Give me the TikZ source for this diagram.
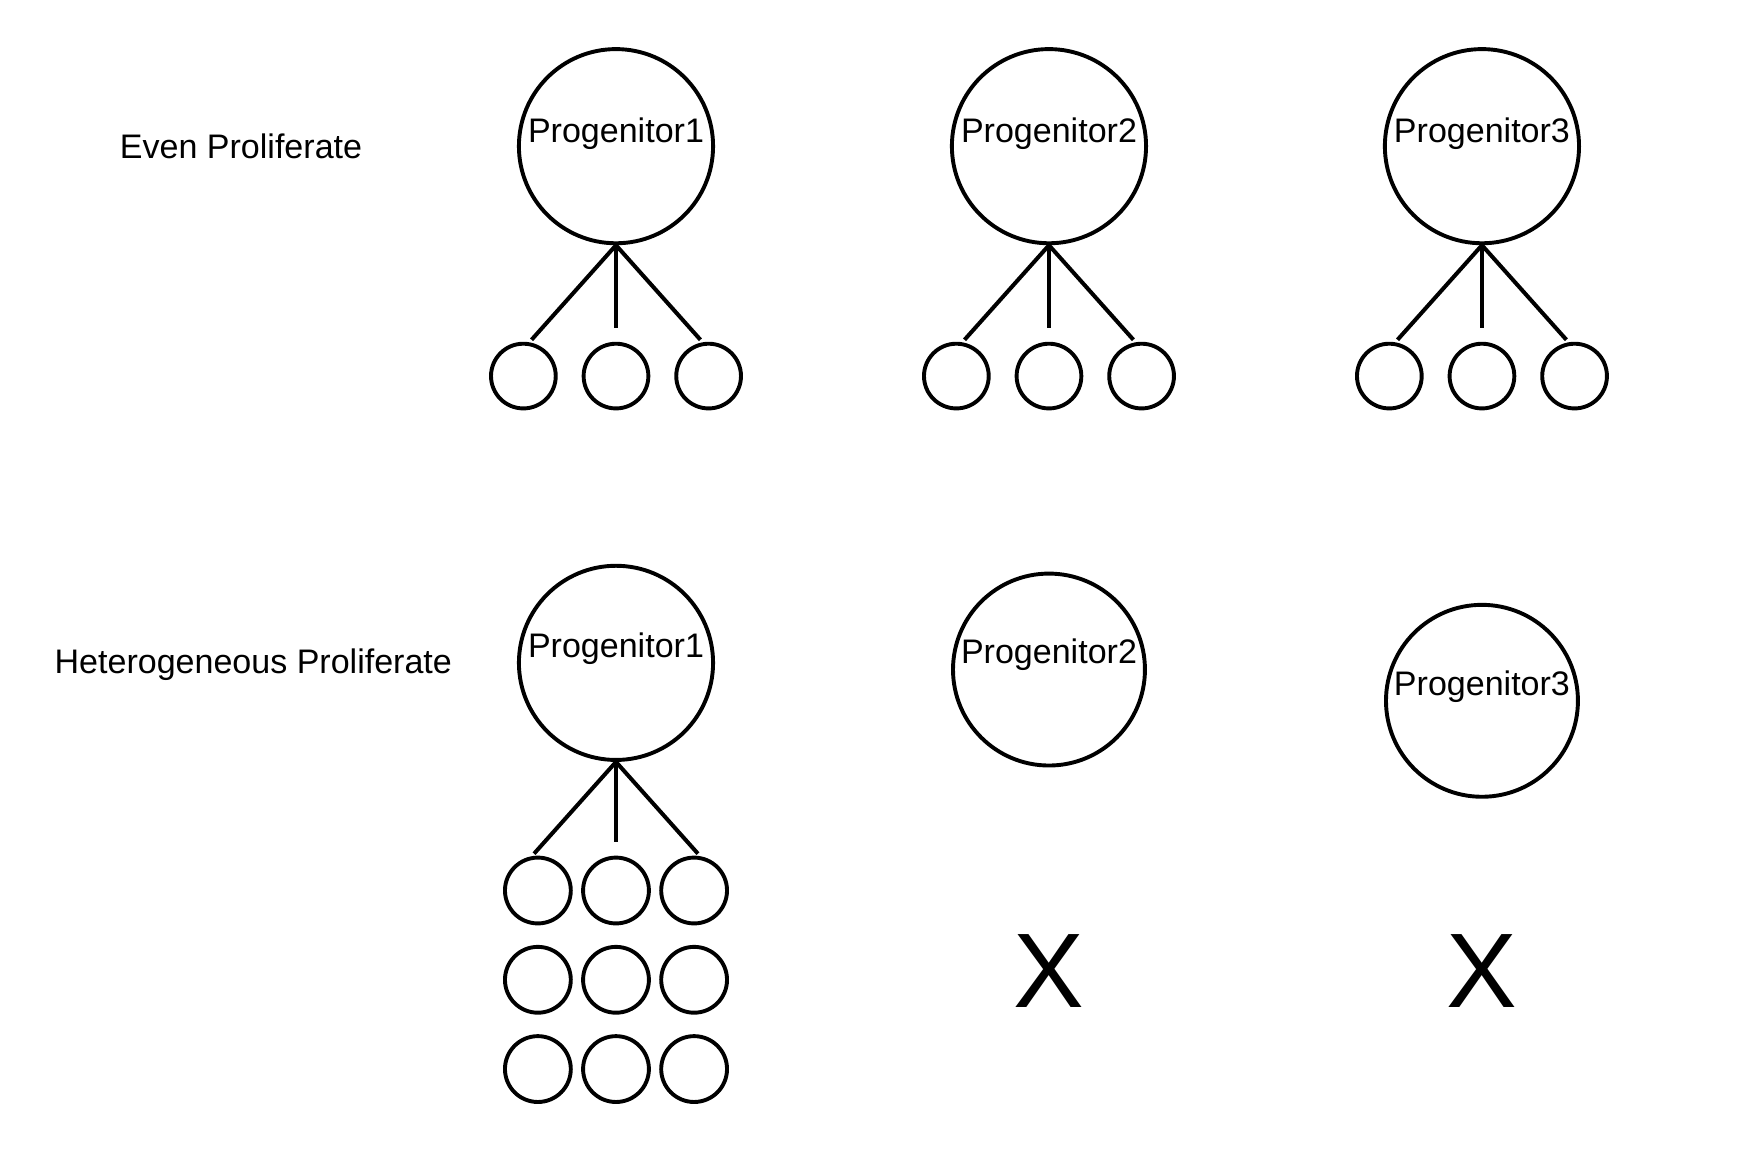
\documentclass[tikz,border=0pt]{standalone}
\usepackage{fontspec}
\setmainfont{Liberation Sans}
\usetikzlibrary{calc}

\begin{document}
\begin{tikzpicture}[x=1pt, y=-1pt,
    cell/.style={draw, circle, line width=3.5pt, inner sep=0pt, minimum size=#1},
    big/.style={cell=174pt},
    small/.style={cell=58pt},
    txt/.style={font=\fontsize{30.5}{36}\selectfont},
    edge/.style={line width=3.6pt}]
            \useasboundingbox (0,0) rectangle (1570,1032);
            % row labels
            \node[txt] (evenlbl) at (216,131) {Even Proliferate};
            \node[txt] (hetlbl) at (227,596) {Heterogeneous Proliferate};
            % even proliferation
            \foreach \n/\x in {1/552, 2/940, 3/1328} {
                \node[big, label={[txt,yshift=11pt]center:Progenitor\n}] (even\n) at (\x,131) {};
                \foreach \k/\dx in {a/-83, b/0, c/83}
                    \node[small] (even\n-\k) at (\x+\dx,337) {};
                \draw[edge, shorten >=3pt] (even\n.south) -- (even\n-a.80);
                \draw[edge, shorten >=12pt] (even\n.south) -- (even\n-b.north);
                \draw[edge, shorten >=3pt] (even\n.south) -- (even\n-c.100);
            }
            % heterogeneous proliferation
            \node[big, label={[txt,yshift=13pt]center:Progenitor1}] (het1) at (552,594) {};
            \foreach \r/\y in {1/798, 2/878, 3/958}
                \foreach \c/\x in {1/482, 2/552, 3/622}
                    \node[cell=59pt] (het1-\r\c) at (\x,\y) {};
            \draw[edge, shorten >=3pt] (het1.south) -- (het1-11.100);
            \draw[edge, shorten >=12pt] (het1.south) -- (het1-12.north);
            \draw[edge, shorten >=3pt] (het1.south) -- (het1-13.80);
            \node[cell=172pt, label={[txt,yshift=13pt]center:Progenitor2}] (het2) at (940,600) {};
            \node[cell=172pt, label={[txt,yshift=13pt]center:Progenitor3}] (het3) at (1328,628) {};
            \node[font=\fontsize{95}{100}\selectfont] (dead2) at (940,870) {X};
            \node[font=\fontsize{95}{100}\selectfont] (dead3) at (1328,870) {X};
\end{tikzpicture}
\end{document}
